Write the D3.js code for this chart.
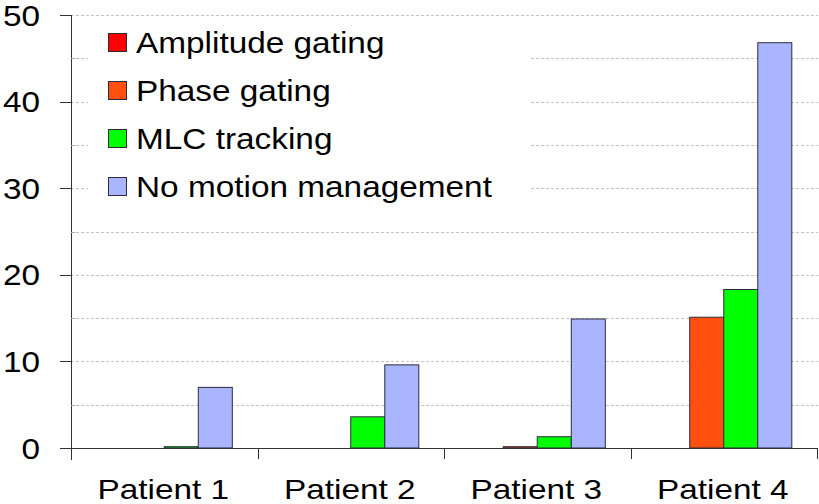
<!DOCTYPE html>
<html><head><meta charset="utf-8">
<script src="https://cdn.jsdelivr.net/npm/d3@7"></script>
<style>body{margin:0;background:#fff}svg{display:block}text{font-family:Arial,"Liberation Sans",sans-serif;fill:#000}</style>
</head><body><svg id="c" width="819" height="504"></svg>
<script>
const patients = ["Patient 1","Patient 2","Patient 3","Patient 4"];
const seriesNames = ["Amplitude gating","Phase gating","MLC tracking","No motion management"];
const seriesColors = ["#FF0000","#FF5010","#00FF00","#A9B6FF"];
const amplitude = [0, 0, 0, 0];
const phase = [0, 0, 0.15, 15.1];
const mlc = [0.15, 3.6, 1.3, 18.3];
const noMotion = [7.0, 9.6, 14.9, 46.8];
const yTicks = [0,10,20,30,40,50];
const yMinor = [5,15,25,35,45];
const gridVals = [5,10,15,20,25,30,35,40,45,50];

const values = [amplitude, phase, mlc, noMotion];
const svg = d3.select("#c");
const SX = 1.15;
const y = d3.scaleLinear().domain([0,50]).range([448,15]);
const x0 = d3.scaleBand().domain(patients).range([71,817]).padding(0);
const x1 = d3.scaleBand().domain(seriesNames).range([0,x0.bandwidth()]).paddingInner(0).paddingOuter(0.74);

// gridlines
svg.append("g").selectAll("line").data(gridVals).join("line")
  .attr("x1",71).attr("x2",818).attr("y1",d=>Math.round(y(d))+0.5).attr("y2",d=>Math.round(y(d))+0.5)
  .attr("stroke","#c4c4c4").attr("stroke-width",1).attr("stroke-dasharray","3,2");

// legend background
svg.append("rect").attr("x",88).attr("y",22).attr("width",442).attr("height",190).attr("fill","#fff");

// bars
const data = [];
patients.forEach((p,i)=>seriesNames.forEach((s,j)=>data.push({p,s,j,v:values[j][i]})));
svg.append("g").selectAll("rect").data(data.filter(d=>d.v>0)).join("rect")
  .attr("x",d=>x0(d.p)+x1(d.s)).attr("width",x1.bandwidth())
  .attr("y",d=>y(d.v)).attr("height",d=>y(0)-y(d.v))
  .attr("fill",d=>seriesColors[d.j]).attr("stroke","#2b2b3a").attr("stroke-width",1);

// y axis
const ya = svg.append("g");
ya.append("line").attr("x1",71.5).attr("x2",71.5).attr("y1",15).attr("y2",460).attr("stroke","#333");
ya.selectAll(".tk").data(yTicks).join("line").attr("class","tk")
  .attr("x1",60).attr("x2",71).attr("y1",d=>Math.round(y(d))+0.5).attr("y2",d=>Math.round(y(d))+0.5).attr("stroke","#333");
ya.selectAll(".mn").data(yMinor).join("line").attr("class","mn")
  .attr("x1",71).attr("x2",75).attr("y1",d=>Math.round(y(d))+0.5).attr("y2",d=>Math.round(y(d))+0.5).attr("stroke","#aaa");
ya.selectAll("g.lb").data(yTicks).join("g").attr("class","lb")
  .attr("transform",d=>`translate(40,${y(d)+10.5}) scale(${SX},1)`)
  .append("text").attr("text-anchor","end").attr("font-size",29).text(d=>d);

// x axis
const xa = svg.append("g");
xa.append("line").attr("x1",60).attr("x2",818).attr("y1",448.5).attr("y2",448.5).attr("stroke","#333");
const bounds = patients.map(p=>x0(p)).concat([x0(patients[3])+x0.bandwidth()]);
xa.selectAll(".ct").data(bounds).join("line").attr("class","ct")
  .attr("x1",d=>Math.round(d)+0.5).attr("x2",d=>Math.round(d)+0.5).attr("y1",448).attr("y2",459).attr("stroke","#333");
xa.selectAll("g.cl").data(patients).join("g").attr("class","cl")
  .attr("transform",d=>`translate(${x0(d)+x0.bandwidth()/2-1},499) scale(1.19,1)`)
  .append("text").attr("text-anchor","middle").attr("font-size",28).text(d=>d);

// legend
const lg = svg.append("g").selectAll("g").data(seriesNames).join("g")
  .attr("transform",(d,i)=>`translate(108,${33+i*48})`);
lg.append("rect").attr("x",0.5).attr("y",0.5).attr("width",18).attr("height",18)
  .attr("fill",(d,i)=>seriesColors[i]).attr("stroke","#2b2b3a");
lg.append("g").attr("transform",`translate(28,20) scale(${SX},1)`)
  .append("text").attr("font-size",29).text(d=>d);
</script></body></html>
